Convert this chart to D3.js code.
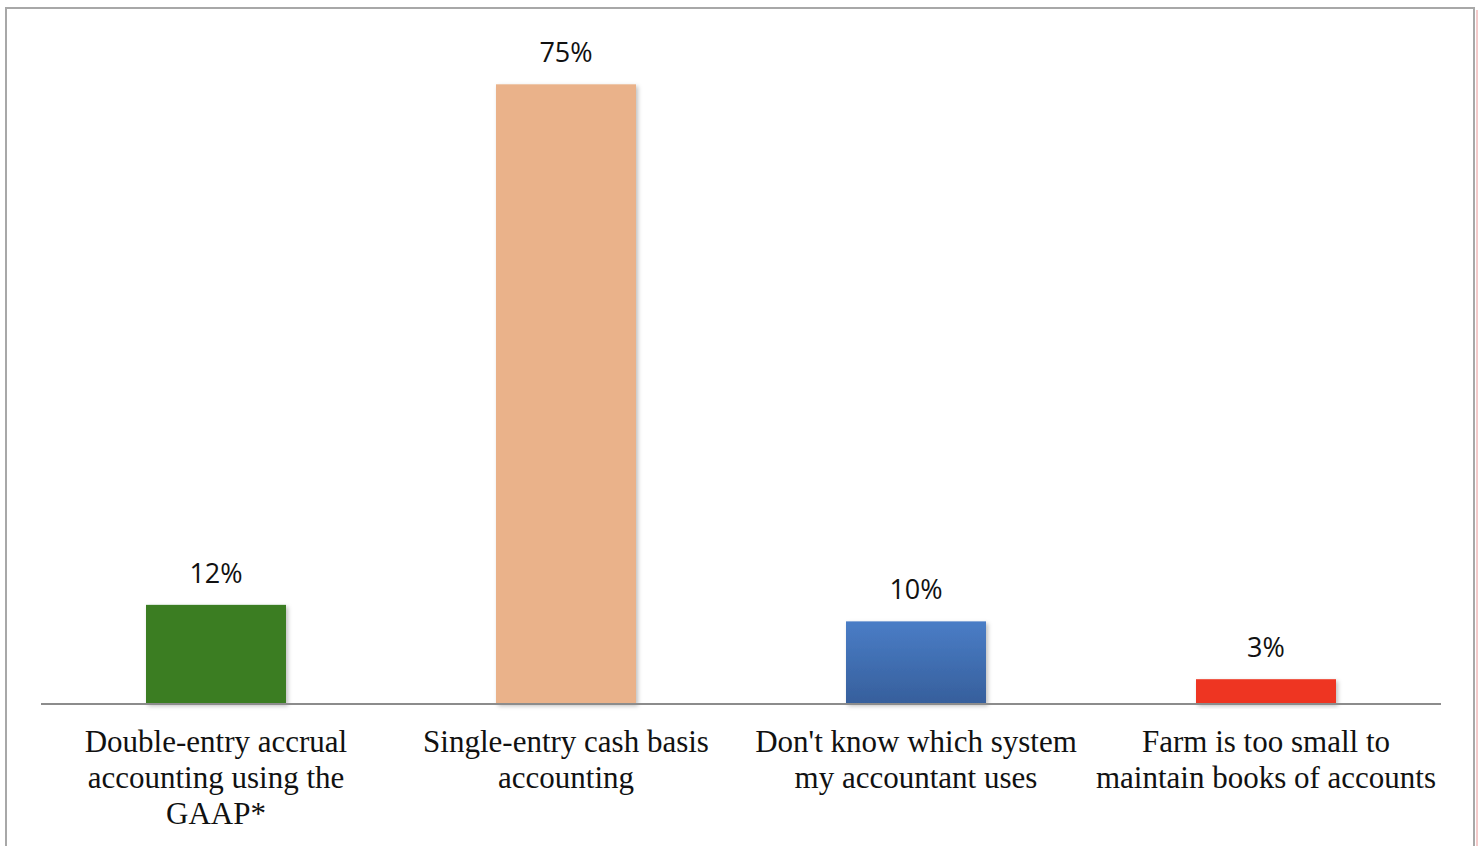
<html>
<head>
<script src="https://d3js.org/d3.v7.min.js"></script>
<style>
  body { margin: 0; background: #fff; }
  svg { display: block; }
</style>
</head>
<body>
<script>
const categories = [
  ["Double-entry accrual", "accounting using the", "GAAP*"],
  ["Single-entry cash basis", "accounting"],
  ["Don't know which system", "my accountant uses"],
  ["Farm is too small to", "maintain books of accounts"]
];
const values = [12, 75, 10, 3];
const colors = ["#3a7d23", "#eab28a", "blue-grad", "#ee3424"];

const W = 1481, H = 846;
const svg = d3.select("body").append("svg").attr("width", W).attr("height", H);

const defs = svg.append("defs");
const grad = defs.append("linearGradient").attr("id", "blueGrad")
  .attr("x1", 0).attr("y1", 0).attr("x2", 0).attr("y2", 1);
grad.append("stop").attr("offset", "0%").attr("stop-color", "#4a7dc6");
grad.append("stop").attr("offset", "100%").attr("stop-color", "#365f9c");
const shadow = defs.append("filter").attr("id", "shadow")
  .attr("x", "-10%").attr("y", "-10%").attr("width", "130%").attr("height", "130%");
shadow.append("feDropShadow").attr("dx", 2).attr("dy", 2).attr("stdDeviation", 2)
  .attr("flood-color", "#000").attr("flood-opacity", 0.25);

// outer frame
svg.append("rect").attr("x", 6).attr("y", 8).attr("width", 1468).attr("height", 850)
  .attr("fill", "none").attr("stroke", "#a8a8a8").attr("stroke-width", 2);
svg.append("line").attr("x1", 1477).attr("x2", 1477).attr("y1", 10).attr("y2", H)
  .attr("stroke", "#f0b8b8").attr("stroke-width", 1.5);

const x = d3.scaleBand().domain(d3.range(values.length))
  .range([41, 1441]).paddingInner(0.6).paddingOuter(0.3);
const y = d3.scaleLinear().domain([0, 80]).range([704, 43]);

svg.append("g").selectAll("rect").data(values).join("rect")
  .attr("x", (d, i) => x(i))
  .attr("y", d => y(d))
  .attr("width", x.bandwidth())
  .attr("height", d => y(0) - y(d))
  .attr("fill", (d, i) => colors[i] === "blue-grad" ? "url(#blueGrad)" : colors[i])
  .attr("filter", "url(#shadow)");

// baseline
svg.append("line").attr("x1", 41).attr("x2", 1441).attr("y1", y(0)).attr("y2", y(0))
  .attr("stroke", "#8c8c8c").attr("stroke-width", 2);

// value labels
svg.append("g").selectAll("text").data(values).join("text")
  .attr("x", (d, i) => x(i) + x.bandwidth() / 2)
  .attr("y", d => y(d) - 22)
  .attr("text-anchor", "middle")
  .attr("font-family", "'Open Sans', sans-serif")
  .attr("font-size", 27)
  .attr("fill", "#111")
  .text(d => d + "%");

// category labels
const cat = svg.append("g").selectAll("text").data(categories).join("text")
  .attr("x", (d, i) => x(i) + x.bandwidth() / 2)
  .attr("y", 752)
  .attr("text-anchor", "middle")
  .attr("font-family", "'Liberation Serif', 'Times New Roman', serif")
  .attr("font-size", 31)
  .attr("fill", "#111");
cat.selectAll("tspan").data(d => d).join("tspan")
  .attr("x", function() { return d3.select(this.parentNode).attr("x"); })
  .attr("dy", (d, i) => i === 0 ? 0 : 36)
  .text(d => d);
</script>
</body>
</html>
